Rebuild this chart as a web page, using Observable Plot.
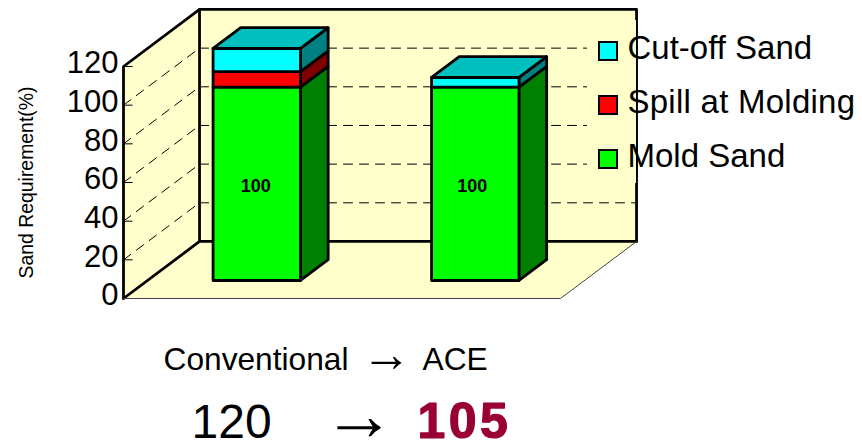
<!DOCTYPE html>
<html>
<head>
<meta charset="utf-8">
<script src="https://cdn.jsdelivr.net/npm/d3@7"></script>
<script src="https://cdn.jsdelivr.net/npm/@observablehq/plot@0.6"></script>
<style>
  html, body { margin: 0; background: #fff; }
  #page { position: relative; width: 862px; height: 443px; overflow: hidden; font-family: "Liberation Sans", Arial, sans-serif; color: #000; }
  #page svg { display: block; }
  .abs { position: absolute; white-space: pre; }
  #legendPatch { position: absolute; left: 587px; top: 20px; width: 49px; height: 163px; background: #ffffcc; }
  .swatch { position: absolute; left: 598px; width: 16px; height: 16px; border: 2px solid #000; }
  .best text { letter-spacing: 3.5px; }
</style>
</head>
<body>
<div id="page"></div>
<script>
// Sand balance per process, stacked bottom to top
const categories = ["Conventional", "ACE"];
const moldSand = [100, 100];
const spillAtMolding = [8, 0];
const cutOffSand = [12, 5];
const totals = [120, 105];
const valueTicks = [0, 20, 40, 60, 80, 100, 120];
const gridValues = [20, 40, 60, 80, 100];

const seriesNames = ["Mold Sand", "Spill at Molding", "Cut-off Sand"];
const seriesValues = [moldSand, spillAtMolding, cutOffSand];
const frontColors = ["#00ff00", "#ff0000", "#00ffff"];
const sideColors = ["#008000", "#800000", "#008080"];
const topColor = "#00bfbf";
const wallColor = "#ffffcc";

// Oblique projection: depth 0 is the front edge of the floor, depth 1 the back wall
const shearX = 0.348;
const shearY = 29.5;
const project = ([x, v, depth]) => ({x: x + depth * shearX, y: v + depth * shearY});

const barHalfWidth = 0.2;
const depthFront = 0.316;
const depthBack = 0.68;
const outline = 2.8;
const labelNudge = [-0.005, -0.014];

const marginLeft = 123;
const marginTop = 66;

const face = (corners, fill, stroke = "black", strokeWidth = outline) =>
  Plot.line(corners.map(project), {x: "x", y: "y", fill, stroke, strokeWidth, curve: "linear-closed", strokeLinejoin: "round"});
const edge = (ends, options = {}) =>
  Plot.line(ends.map(project), {x: "x", y: "y", stroke: "black", strokeWidth: outline, ...options});

// Text placed from the frame corner, by its left end and baseline
const captionText = (text, left, baseline, fontSize, options = {}) =>
  Plot.text([text], {
    frameAnchor: "top-left", textAnchor: "start", lineAnchor: "bottom",
    dx: left - marginLeft, dy: baseline - marginTop, fontSize, fill: "black", ...options
  });

const dashed = {strokeWidth: 1, strokeDasharray: "9 7"};

const marks = [
  // walls and floor
  face([[0, 0, 0], [0, 120, 0], [0, 120, 1], [0, 0, 1]], wallColor, "none"),
  face([[0, 0, 1], [0, 120, 1], [2, 120, 1], [2, 0, 1]], wallColor, "none"),
  face([[0, 0, 0], [2, 0, 0], [2, 0, 1], [0, 0, 1]], wallColor, "none"),
  // gridlines on both walls
  ...gridValues.map((v) => edge([[0, v, 1], [2, v, 1]], dashed)),
  ...gridValues.map((v) => edge([[0, v, 0], [0, v, 1]], dashed)),
  ...valueTicks.map((v) => edge([[0, v, 0], [0.04, v, 0]], {strokeWidth: 1})),
  // wall outlines
  edge([[0, 0, 0], [0, 120, 0], [0, 120, 1], [2, 120, 1], [2, 0, 1]]),
  edge([[0, 0, 0], [0, 0, 1], [2, 0, 1]]),
  edge([[0, 120, 1], [0, 0, 1]]),
  edge([[0, 0, 0], [2, 0, 0], [2, 0, 1]], {strokeWidth: 1, stroke: "#444"}),
  // stacked boxes
  ...categories.flatMap((name, i) => {
    const left = i + 0.5 - barHalfWidth;
    const right = i + 0.5 + barHalfWidth;
    let base = 0;
    const faces = [];
    seriesValues.forEach((values, s) => {
      const h = values[i];
      if (!h) return;
      const t = base + h;
      faces.push(face([[right, base, depthFront], [right, t, depthFront], [right, t, depthBack], [right, base, depthBack]], sideColors[s]));
      faces.push(face([[left, base, depthFront], [right, base, depthFront], [right, t, depthFront], [left, t, depthFront]], frontColors[s]));
      base = t;
    });
    faces.push(face([[left, base, depthFront], [right, base, depthFront], [right, base, depthBack], [left, base, depthBack]], topColor));
    return faces;
  }),
  // value label on the mold sand segment
  Plot.text(categories.map((name, i) => ({...project([i + 0.5 + labelNudge[i], moldSand[i] / 2, depthFront]), label: moldSand[i]})), {
    x: "x", y: "y", text: "label", fontSize: 18, fontWeight: "bold", fill: "black", dy: 2
  }),
  Plot.axisY({ticks: valueTicks, tickSize: 0, tickPadding: 5, tickFormat: (d) => d, fontSize: 31, label: null, dy: -3}),
  Plot.text(["Sand Requirement(%)"], {frameAnchor: "left", textAnchor: "middle", rotate: -90, dx: -97, fontSize: 19.4, fill: "black"}),
  // process comparison under the chart
  captionText(categories[0], 163, 369, 31.7),
  captionText("→", 361, 370, 50),
  captionText(categories[1], 422, 369, 31.7),
  captionText(String(totals[0]), 191, 437, 48),
  captionText("→", 322, 439, 73),
  captionText(String(totals[1]), 417, 437, 50, {fontWeight: "bold", fill: "#990033", stroke: "#990033", strokeWidth: 1.2, className: "best"})
];

const chart = Plot.plot({
  width: 862,
  height: 443,
  marginLeft,
  marginRight: 302,
  marginTop,
  marginBottom: 145,
  style: {fontFamily: "'Liberation Sans', Arial, sans-serif", overflow: "visible", background: "transparent", color: "black"},
  x: {domain: [0, 2], axis: null},
  y: {domain: [0, 120], axis: null},
  marks
});

const page = document.getElementById("page");
page.appendChild(chart);

// Places a legend line by its alphabetic baseline
const addText = (text, left, baseline, size, tracking) => {
  const el = document.createElement("div");
  el.className = "abs";
  el.textContent = text;
  el.style.left = left + "px";
  el.style.fontSize = size + "px";
  el.style.lineHeight = 1;
  el.style.letterSpacing = tracking + "px";
  el.style.top = (baseline - size * 0.8465) + "px";
  page.appendChild(el);
};

// legend drawn over the right part of the back wall
const patch = document.createElement("div");
patch.id = "legendPatch";
page.appendChild(patch);
const legendOrder = [2, 1, 0];
const swatchTops = [41, 95, 149];
const legendBaselines = [58.7, 112.7, 166.7];
const legendTracking = [0, 0.25, 0];
legendOrder.forEach((s, row) => {
  const sw = document.createElement("div");
  sw.className = "swatch";
  sw.style.top = swatchTops[row] + "px";
  sw.style.background = frontColors[s];
  page.appendChild(sw);
  addText(seriesNames[s], 627.5, legendBaselines[row], 33, legendTracking[row]);
});
</script>
</body>
</html>
